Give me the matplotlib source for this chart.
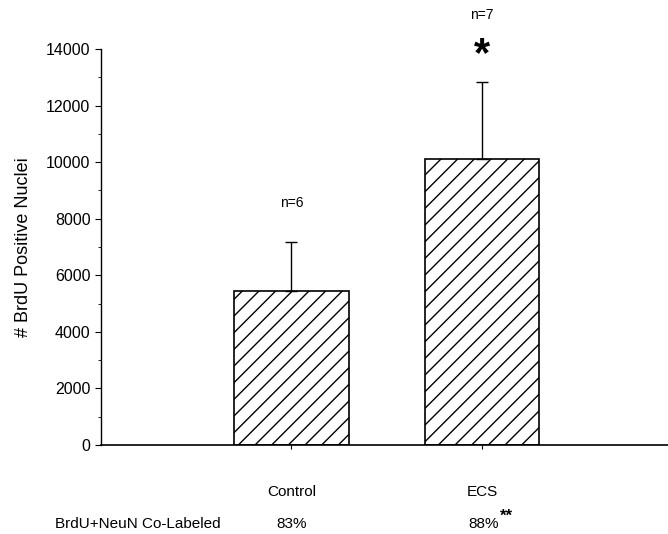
import matplotlib
matplotlib.use("Agg")
import matplotlib.pyplot as plt
from matplotlib.ticker import MultipleLocator

plt.rcParams['font.family'] = ['Liberation Sans', 'DejaVu Sans']

groups = ["Control", "ECS"]
means = [5440, 10120]
sem = [1740, 2720]
n_labels = ["n=6", "n=7"]
colabel = ["83%", "88%"]

fig = plt.figure(figsize=(6.68, 5.34), dpi=100)
ax = fig.add_axes([0.151, 0.1667, 0.856, 0.7416])

x = [1, 2]
plt.rcParams['hatch.linewidth'] = 1.0
ax.bar(x, means, width=0.6, color="white", edgecolor="black", linewidth=1.2,
       hatch="//", zorder=2)
ax.errorbar(x, means, yerr=[[0, 0], sem], fmt="none", ecolor="black",
            elinewidth=1.0, capsize=4, capthick=1.0, zorder=3)

ax.set_xlim(0, 3)
ax.set_ylim(0, 14000)
ax.yaxis.set_major_locator(MultipleLocator(2000))
ax.yaxis.set_minor_locator(MultipleLocator(1000))
ax.set_xticks(x)
ax.set_xticklabels([])
ax.tick_params(axis="y", which="major", labelsize=11.5, length=4, width=0.8)
ax.tick_params(axis="y", which="minor", length=2, width=0.6)
ax.tick_params(axis="x", length=3, width=0.8)
for s in ["top", "right"]:
    ax.spines[s].set_visible(False)
ax.spines["left"].set_linewidth(1.0)
ax.spines["bottom"].set_linewidth(1.2)

ax.set_ylabel("# BrdU Positive Nuclei", fontsize=13, labelpad=10)

# n labels above bars
ax.text(1, 8560, n_labels[0], ha="center", va="center", fontsize=10)
ax.text(2, 15200, n_labels[1], ha="center", va="center", fontsize=10, clip_on=False)
ax.text(2, 13800, "*", ha="center", va="center", fontsize=30, fontweight="bold",
        clip_on=False)

# category labels and co-labeling row below axis
for xi, g in zip(x, groups):
    ax.text(xi, -1650, g, ha="center", va="center", fontsize=11, clip_on=False)
ax.text(0.196, -2780, "BrdU+NeuN Co-Labeled", ha="center", va="center",
        fontsize=11, clip_on=False)
ax.text(1, -2780, colabel[0], ha="center", va="center", fontsize=11, clip_on=False)
ax.text(2.01, -2780, colabel[1], ha="center", va="center", fontsize=11, clip_on=False)
ax.text(2.095, -2520, "**", ha="left", va="center", fontsize=12, fontweight="bold",
        clip_on=False)

fig.savefig("out.png", dpi=100)
